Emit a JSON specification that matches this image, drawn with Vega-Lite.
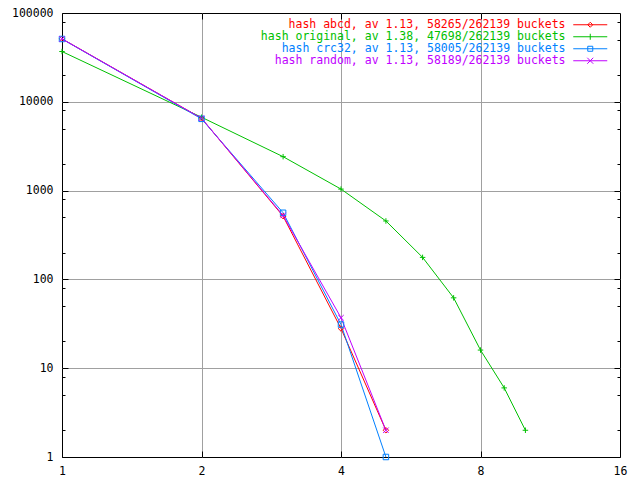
{
  "$schema": "https://vega.github.io/schema/vega-lite/v6.json",
  "width": 558,
  "height": 444,
  "autosize": {"type": "none"},
  "padding": {"left": 62, "top": 13, "right": 20, "bottom": 23},
  "background": "white",
  "config": {
    "view": {"stroke": "black", "strokeWidth": 1},
    "font": "DejaVu Sans Mono",
    "axis": {"labelFont": "DejaVu Sans Mono", "labelFontSize": 11.5, "labelColor": "black", "tickColor": "black", "domain": false, "title": null, "labelFlush": false},
    "point": {"filled": false, "strokeWidth": 1, "opacity": 1, "size": 30}
  },
  "data": {
    "values": [
      {"series": "hash abcd, av 1.13, 58265/262139 buckets", "k": 1, "n": 51190},
      {"series": "hash abcd, av 1.13, 58265/262139 buckets", "k": 2, "n": 6530},
      {"series": "hash abcd, av 1.13, 58265/262139 buckets", "k": 3, "n": 515},
      {"series": "hash abcd, av 1.13, 58265/262139 buckets", "k": 4, "n": 28},
      {"series": "hash abcd, av 1.13, 58265/262139 buckets", "k": 5, "n": 2},
      {"series": "hash original, av 1.38, 47698/262139 buckets", "k": 1, "n": 36830},
      {"series": "hash original, av 1.38, 47698/262139 buckets", "k": 2, "n": 6700},
      {"series": "hash original, av 1.38, 47698/262139 buckets", "k": 3, "n": 2410},
      {"series": "hash original, av 1.38, 47698/262139 buckets", "k": 4, "n": 1040},
      {"series": "hash original, av 1.38, 47698/262139 buckets", "k": 5, "n": 455},
      {"series": "hash original, av 1.38, 47698/262139 buckets", "k": 6, "n": 177},
      {"series": "hash original, av 1.38, 47698/262139 buckets", "k": 7, "n": 62},
      {"series": "hash original, av 1.38, 47698/262139 buckets", "k": 8, "n": 16},
      {"series": "hash original, av 1.38, 47698/262139 buckets", "k": 9, "n": 6},
      {"series": "hash original, av 1.38, 47698/262139 buckets", "k": 10, "n": 2},
      {"series": "hash crc32, av 1.13, 58005/262139 buckets", "k": 1, "n": 50980},
      {"series": "hash crc32, av 1.13, 58005/262139 buckets", "k": 2, "n": 6430},
      {"series": "hash crc32, av 1.13, 58005/262139 buckets", "k": 3, "n": 563},
      {"series": "hash crc32, av 1.13, 58005/262139 buckets", "k": 4, "n": 31},
      {"series": "hash crc32, av 1.13, 58005/262139 buckets", "k": 5, "n": 1},
      {"series": "hash random, av 1.13, 58189/262139 buckets", "k": 1, "n": 51100},
      {"series": "hash random, av 1.13, 58189/262139 buckets", "k": 2, "n": 6525},
      {"series": "hash random, av 1.13, 58189/262139 buckets", "k": 3, "n": 525},
      {"series": "hash random, av 1.13, 58189/262139 buckets", "k": 4, "n": 37},
      {"series": "hash random, av 1.13, 58189/262139 buckets", "k": 5, "n": 2}
    ]
  },
  "layer": [
    {
      "mark": {"type": "line", "strokeWidth": 1},
      "encoding": {
        "x": {
          "field": "k", "type": "quantitative",
          "scale": {"type": "log", "base": 2, "domain": [1, 16], "nice": false},
          "axis": {
            "orient": "bottom",
            "values": [1, 2, 4, 8, 16],
            "format": "d",
            "grid": true,
            "gridColor": "#a0a0a0",
            "gridOpacity": {"condition": {"test": "datum.value > 1.5 && datum.value < 15", "value": 1}, "value": 0},
            "tickSize": -6,
            "labelPadding": 14
          }
        },
        "y": {
          "field": "n", "type": "quantitative",
          "scale": {"type": "log", "base": 10, "domain": [1, 100000], "nice": false},
          "axis": {
            "orient": "left",
            "values": [1, 2, 5, 8, 10, 20, 50, 80, 100, 200, 500, 800, 1000, 2000, 5000, 8000, 10000, 20000, 50000, 80000, 100000],
            "format": "d",
            "labelExpr": "abs(log(datum.value)/LN10 - round(log(datum.value)/LN10)) < 0.001 ? datum.label : ''",
            "grid": true,
            "gridColor": "#a0a0a0",
            "gridOpacity": {"condition": {"test": "abs(log(datum.value)/LN10 - round(log(datum.value)/LN10)) < 0.001 && datum.value > 1.5 && datum.value < 90000", "value": 1}, "value": 0},
            "tickSize": {"condition": {"test": "abs(log(datum.value)/LN10 - round(log(datum.value)/LN10)) < 0.001", "value": -6}, "value": -3},
            "labelPadding": 15
          }
        },
        "color": {
          "field": "series", "type": "nominal",
          "scale": {
            "domain": [
              "hash abcd, av 1.13, 58265/262139 buckets",
              "hash original, av 1.38, 47698/262139 buckets",
              "hash crc32, av 1.13, 58005/262139 buckets",
              "hash random, av 1.13, 58189/262139 buckets"
            ],
            "range": ["#ff0000", "#00c000", "#0080ff", "#c000ff"]
          },
          "legend": {
            "orient": "none",
            "legendX": 522.5,
            "legendY": 6,
            "title": null,
            "padding": 0,
            "symbolType": "stroke",
            "symbolSize": 4,
            "symbolStrokeWidth": 1,
            "labelFont": "DejaVu Sans Mono",
            "labelFontSize": 11.5,
            "labelAlign": "right",
            "labelOffset": -30.5,
            "labelLimit": 500,
            "rowPadding": -3,
            "encode": {
              "labels": {"update": {"fill": {"scale": "color", "field": "value"}}},
              "symbols": {"update": {
                "stroke": {"scale": "color", "field": "value"},
                "fill": {"value": "transparent"},
                "strokeWidth": {"value": 1},
                "opacity": {"value": 1},
                "strokeOpacity": {"value": 1},
                "size": {"value": 4},
                "shape": {"signal": "datum.index == 0 ? 'M-17,0L17,0M0,-2.5L2.5,0L0,2.5L-2.5,0Z' : datum.index == 1 ? 'M-17,0L17,0M0,-3L0,3' : datum.index == 2 ? 'M-17,0L17,0M-2.5,-2.5L2.5,-2.5L2.5,2.5L-2.5,2.5Z' : 'M-17,0L17,0M-3,-3L3,3M-3,3L3,-3'"}
              }}
            }
          }
        }
      }
    },
    {
      "transform": [{"filter": "datum.series == 'hash abcd, av 1.13, 58265/262139 buckets'"}],
      "mark": {"type": "point", "shape": "diamond"},
      "encoding": {
        "x": {"field": "k", "type": "quantitative", "axis": null},
        "y": {"field": "n", "type": "quantitative", "axis": null},
        "color": {"field": "series", "type": "nominal", "legend": null}
      }
    },
    {
      "transform": [{"filter": "datum.series == 'hash original, av 1.38, 47698/262139 buckets'"}],
      "mark": {"type": "point", "shape": "M-1,0L1,0M0,-1L0,1"},
      "encoding": {
        "x": {"field": "k", "type": "quantitative", "axis": null},
        "y": {"field": "n", "type": "quantitative", "axis": null},
        "color": {"field": "series", "type": "nominal", "legend": null}
      }
    },
    {
      "transform": [{"filter": "datum.series == 'hash crc32, av 1.13, 58005/262139 buckets'"}],
      "mark": {"type": "point", "shape": "square"},
      "encoding": {
        "x": {"field": "k", "type": "quantitative", "axis": null},
        "y": {"field": "n", "type": "quantitative", "axis": null},
        "color": {"field": "series", "type": "nominal", "legend": null}
      }
    },
    {
      "transform": [{"filter": "datum.series == 'hash random, av 1.13, 58189/262139 buckets'"}],
      "mark": {"type": "point", "shape": "M-1,-1L1,1M-1,1L1,-1"},
      "encoding": {
        "x": {"field": "k", "type": "quantitative", "axis": null},
        "y": {"field": "n", "type": "quantitative", "axis": null},
        "color": {"field": "series", "type": "nominal", "legend": null}
      }
    },
    {
      "mark": {"type": "point", "opacity": 0},
      "encoding": {
        "x": {
          "field": "k", "type": "quantitative",
          "axis": {"orient": "top", "values": [2, 4, 8], "labels": false, "grid": false, "tickSize": -6}
        },
        "y": {
          "field": "n", "type": "quantitative",
          "axis": {
            "orient": "right",
            "values": [2, 5, 8, 10, 20, 50, 80, 100, 200, 500, 800, 1000, 2000, 5000, 8000, 10000, 20000, 50000, 80000],
            "labels": false,
            "grid": false,
            "tickSize": {"condition": {"test": "abs(log(datum.value)/LN10 - round(log(datum.value)/LN10)) < 0.001", "value": -6}, "value": -3}
          }
        }
      }
    }
  ],
  "resolve": {"axis": {"x": "independent", "y": "independent"}}
}
